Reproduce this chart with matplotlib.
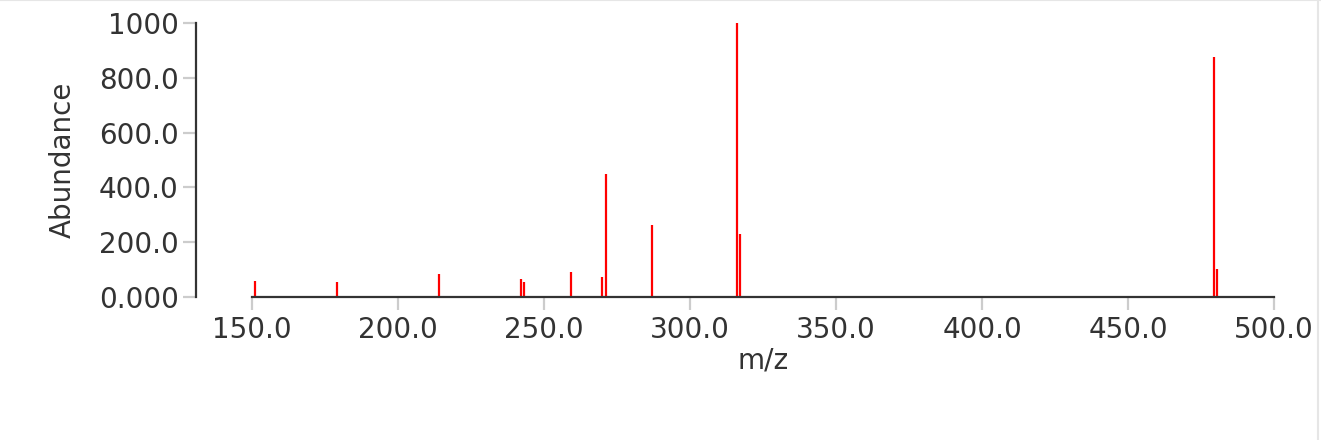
import numpy as np
import matplotlib
matplotlib.use("Agg")
import matplotlib.pyplot as plt
from matplotlib.lines import Line2D

# Peak list (m/z, abundance)
mz = [150.9, 179.0, 214.2, 242.0, 243.0, 259.1, 270.0, 271.1, 287.1,
      316.1, 317.1, 479.4, 480.4]
abundance = [58, 54, 83, 66, 56, 90, 73, 448, 264,
             1000, 229, 876, 101]

xticks = [150, 200, 250, 300, 350, 400, 450, 500]
xtick_labels = ["150.0", "200.0", "250.0", "300.0", "350.0", "400.0", "450.0", "500.0"]
yticks = [0, 200, 400, 600, 800, 1000]
ytick_labels = ["0.000", "200.0", "400.0", "600.0", "800.0", "1000"]

dark = "#333333"
grey = "#cccccc"

plt.rcParams['font.family'] = ['DejaVu Sans']

fig = plt.figure(figsize=(13.21, 4.40), dpi=100)
ax = fig.add_axes([252/1321, 1 - 297/440, (1274 - 252)/1321, (297 - 23)/440])

ax.vlines(mz, 0, abundance, colors="red", linewidth=1.6)

ax.set_xlim(150, 500)
ax.set_ylim(0, 1000)

ax.set_xticks(xticks)
ax.set_xticklabels(xtick_labels)
ax.set_yticks(yticks)
ax.set_yticklabels(ytick_labels)

for s in ["top", "right"]:
    ax.spines[s].set_visible(False)
# y axis sits 56 px left of the plot area (56 px = 40.3 pt at 100 dpi)
ax.spines["left"].set_position(("outward", 40.3))
ax.spines["left"].set_bounds(0, 1000)
ax.spines["bottom"].set_bounds(150, 500)
for s in ["left", "bottom"]:
    ax.spines[s].set_color(dark)
    ax.spines[s].set_linewidth(1.6)

ax.tick_params(axis="both", colors=grey, labelcolor=dark, labelsize=20,
               width=1.6, length=9.5, pad=3)
ax.tick_params(axis="x", pad=4)

# end ticks drawn in the axis colour
for t in [ax.xaxis.get_major_ticks()[0], ax.xaxis.get_major_ticks()[-1],
          ax.yaxis.get_major_ticks()[0], ax.yaxis.get_major_ticks()[-1]]:
    t.tick1line.set_color(dark)

ax.set_xlabel("m/z", fontsize=20, color=dark, labelpad=2)
ax.set_ylabel("Abundance", fontsize=20, color=dark, labelpad=16)

# faint frame at the top and right edge
fig.add_artist(Line2D([0, 1], [0.999, 0.999], color="#e6e6e6", linewidth=1.5))
fig.add_artist(Line2D([1318/1321, 1318/1321], [0, 1], color="#e6e6e6", linewidth=1.5))

fig.savefig("out.png", dpi=100)
